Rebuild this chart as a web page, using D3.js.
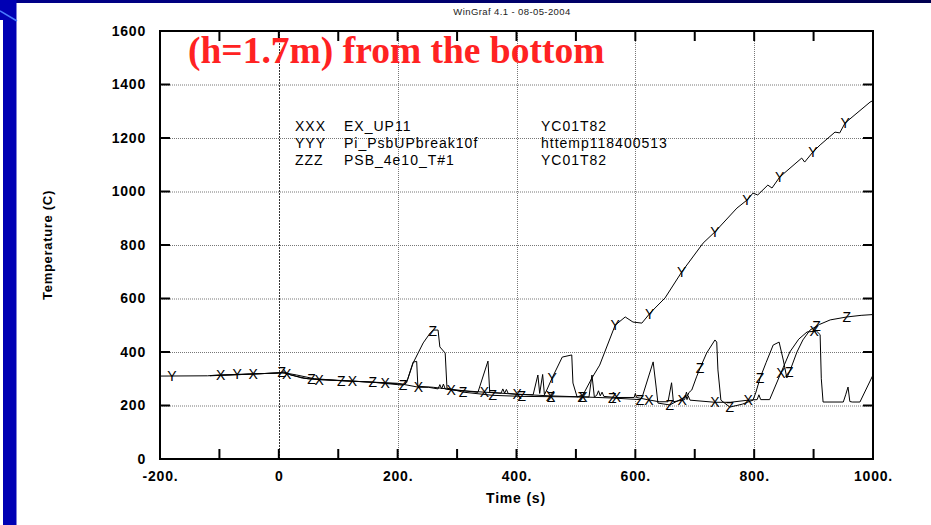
<!DOCTYPE html>
<html>
<head>
<meta charset="utf-8">
<script src="https://cdn.jsdelivr.net/npm/d3@7"></script>
<style>
  body { margin: 0; background: #fff; }
  svg { display: block; }
</style>
</head>
<body>
<svg id="chart" width="931" height="525"></svg>
<script>
// Axis ticks and labels
const xLabelValues = [-200, 0, 200, 400, 600, 800, 1000];
const xLabelTexts = ["-200.", "0", "200.", "400.", "600.", "800.", "1000."];
const xMinorTicks = [-200, -100, 0, 100, 200, 300, 400, 500, 600, 700, 800, 900, 1000];
const xGridValues = [0, 200, 400, 600, 800];
const yTickValues = [0, 200, 400, 600, 800, 1000, 1200, 1400, 1600];
const yGridValues = [200, 400, 600, 800, 1000, 1200, 1400];

// Legend rows: marker code, curve name, variable
const legendCodes = ["XXX", "YYY", "ZZZ"];
const legendNames = ["EX_UP11", "Pi_PsbUPbreak10f", "PSB_4e10_T#1"];
const legendVars = ["YC01T82", "httemp118400513", "YC01T82"];

// EX_UP11 : [time (s), temperature (C)]
const seriesX = [[-116,312],[-60,316],[-20,320],[5,323],[15,318],[40,302],[71,296],[123,291],[180,285],[200,283],
  [236,268],[252,268],[268,262],[271,278],[274,262],[277,280],[280,262],[290,258],[345,250],[374,246],[377,262],
  [380,246],[383,260],[386,245],[402,242],[457,236],[512,232],[522,232],[527,314],[531,232],[535,238],[538,255],
  [541,236],[544,250],[547,234],[568,230],[598,230],[600,245],[602,230],[620,222],[640,214],[655,214],[661,285],
  [664,214],[679,220],[683,222],[685,240],[687,222],[689,236],[692,220],[734,212],[760,212],[790,220],[805,222],
  [808,240],[811,222],[826,222],[842,306],[860,400],[875,448],[889,475],[905,478],[911,465],[913,300],[916,213],
  [950,213],[954,240],[958,269],[961,215],[965,213],[978,213],[1000,314]];

// Pi_PsbUPbreak10f : [time (s), temperature (C)]
const seriesY = [[-200,310],[-120,311],[-100,314],[-50,318],[0,321],[10,322],[30,314],[60,300],[100,294],[150,288],
  [200,281],[212,279],[217,300],[226,362],[232,365],[234,272],[260,268],[283,262],[300,258],[335,249],[352,366],
  [355,249],[400,242],[428,240],[436,314],[439,245],[444,316],[447,240],[451,258],[460,303],[477,381],[493,389],
  [495,284],[502,232],[512,240],[527,303],[540,351],[566,500],[583,531],[596,512],[611,508],[625,546],[650,602],
  [678,699],[714,807],[734,849],[771,938],[788,968],[798,994],[806,987],[823,1024],[830,1013],[843,1054],[880,1125],
  [885,1110],[899,1148],[911,1174],[936,1222],[944,1219],[953,1256],[995,1334],[1000,1340]];

// PSB_4e10_T#1 : [time (s), temperature (C)]
const seriesZ = [[-116,311],[-50,317],[0,322],[8,326],[20,314],[49,300],[103,293],[158,287],[209,276],[215,285],
  [226,359],[243,434],[255,472],[260,482],[268,482],[271,419],[280,396],[283,265],[310,250],[360,238],[409,234],
  [458,233],[512,232],[561,228],[608,222],[612,235],[630,363],[635,269],[638,209],[658,202],[684,232],[686,250],
  [688,236],[690,248],[695,258],[703,307],[709,340],[720,396],[734,445],[737,437],[739,333],[744,220],[759,194],
  [780,205],[798,220],[803,250],[810,303],[820,360],[832,426],[842,437],[849,370],[855,303],[862,340],[872,400],
  [882,445],[894,482],[910,503],[928,520],[956,531],[980,537],[1000,540]];

// Times at which the curve letters are printed along each curve
const markerTimesX = [-98,-43,13,68,124,179,235,290,346,401,457,512,568,623,679,734,790,845,901];
const markerTimesY = [-180,-70,460,566,624,678,734,788,843,899,953];
const markerTimesZ = [5,55,105,158,209,259,310,360,409,458,510,561,608,658,709,759,810,859,905,956];

const svg = d3.select("#chart");
const W = 931, H = 525;
const plot = { left: 160, right: 873, top: 31, bottom: 459 };

const x = d3.scaleLinear().domain([-200, 1000]).range([plot.left, plot.right]);
const y = d3.scaleLinear().domain([0, 1600]).range([plot.bottom, plot.top]);

// Slide decoration: dark bar on top, blue band on the left
const defs = svg.append("defs");
const topGrad = defs.append("linearGradient").attr("id", "topbar").attr("x1", 0).attr("x2", 1);
topGrad.append("stop").attr("offset", 0).attr("stop-color", "#00008a");
topGrad.append("stop").attr("offset", 1).attr("stop-color", "#000050");
svg.append("rect").attr("x", 0).attr("y", 0).attr("width", W).attr("height", 3).attr("fill", "url(#topbar)");
svg.append("rect").attr("x", 3).attr("y", 0).attr("width", 13.5).attr("height", H).attr("fill", "#0000b4");
svg.append("rect").attr("x", 0).attr("y", 0).attr("width", 3).attr("height", 20).attr("fill", "#0000b4");
svg.append("line").attr("x1", 0).attr("y1", 11).attr("x2", 17).attr("y2", 21)
  .attr("stroke", "#4a7cff").attr("stroke-width", 1.5);

// Header
svg.append("text").attr("x", 512).attr("y", 15).attr("text-anchor", "middle")
  .style("font-family", "Arial, 'Liberation Sans', sans-serif").style("font-size", "9.5px")
  .style("letter-spacing", "0.4px").attr("fill", "#222")
  .text("WinGraf 4.1 - 08-05-2004");

// Grid
const grid = svg.append("g");
grid.selectAll(".gy").data(yGridValues).join("line")
  .attr("x1", plot.left).attr("x2", plot.right)
  .attr("y1", d => y(d) + 0.5).attr("y2", d => y(d) + 0.5)
  .attr("stroke", "#777").attr("stroke-width", 1).attr("stroke-dasharray", "1,1");
grid.selectAll(".gx").data(xGridValues).join("line")
  .attr("y1", plot.top).attr("y2", plot.bottom)
  .attr("x1", d => Math.round(x(d)) + 0.5).attr("x2", d => Math.round(x(d)) + 0.5)
  .attr("stroke", d => d === 0 ? "#333" : "#777").attr("stroke-width", 1)
  .attr("stroke-dasharray", d => d === 0 ? "2,1" : "1,1");

// Tick marks (inward) on all four sides
const tickLen = 10;
const ticks = svg.append("g").attr("stroke", "#000").attr("stroke-width", 2);
ticks.selectAll(".tb").data(xMinorTicks).join("line")
  .attr("x1", d => x(d)).attr("x2", d => x(d)).attr("y1", plot.bottom).attr("y2", plot.bottom - tickLen);
ticks.selectAll(".tt").data(xMinorTicks).join("line")
  .attr("x1", d => x(d)).attr("x2", d => x(d)).attr("y1", plot.top).attr("y2", plot.top + tickLen);
ticks.selectAll(".tl").data(yTickValues).join("line")
  .attr("y1", d => y(d)).attr("y2", d => y(d)).attr("x1", plot.left).attr("x2", plot.left + tickLen);
ticks.selectAll(".tr").data(yTickValues).join("line")
  .attr("y1", d => y(d)).attr("y2", d => y(d)).attr("x1", plot.right).attr("x2", plot.right - tickLen);

// Axis labels through d3 axes (no tick lines, no domain path)
const labelFont = "Arial, 'Liberation Sans', sans-serif";
const xAxis = svg.append("g").attr("transform", `translate(0,${plot.bottom})`)
  .call(d3.axisBottom(x).tickValues(xLabelValues).tickFormat((d, i) => xLabelTexts[i]).tickSize(0).tickPadding(12));
const yAxis = svg.append("g").attr("transform", `translate(${plot.left},0)`)
  .call(d3.axisLeft(y).tickValues(yTickValues).tickFormat(d3.format("d")).tickSize(0).tickPadding(14));
[xAxis, yAxis].forEach(g => {
  g.select(".domain").remove();
  g.selectAll("text").style("font-family", labelFont).style("font-size", "14px")
    .style("font-weight", "bold").style("letter-spacing", "0.8px").attr("fill", "#000");
});

// Frame
svg.append("rect").attr("x", plot.left).attr("y", plot.top)
  .attr("width", plot.right - plot.left).attr("height", plot.bottom - plot.top)
  .attr("fill", "none").attr("stroke", "#000").attr("stroke-width", 2);

// Axis titles
svg.append("text").attr("x", 516).attr("y", 503).attr("text-anchor", "middle")
  .style("font-family", labelFont).style("font-size", "14px").style("font-weight", "bold")
  .style("letter-spacing", "0.8px").text("Time (s)");
svg.append("text").attr("transform", "translate(52,245) rotate(-90)").attr("text-anchor", "middle")
  .style("font-family", labelFont).style("font-size", "13px").style("font-weight", "bold")
  .style("letter-spacing", "0.7px").text("Temperature (C)");

// Curves
const clip = defs.append("clipPath").attr("id", "plotclip");
clip.append("rect").attr("x", plot.left).attr("y", plot.top)
  .attr("width", plot.right - plot.left).attr("height", plot.bottom - plot.top);

const line = d3.line().x(d => x(d[0])).y(d => y(d[1]));
const curves = [
  { data: seriesX, letter: "X", marks: markerTimesX },
  { data: seriesY, letter: "Y", marks: markerTimesY },
  { data: seriesZ, letter: "Z", marks: markerTimesZ }
];
const curveG = svg.append("g").attr("clip-path", "url(#plotclip)");
curveG.selectAll("path").data(curves).join("path")
  .attr("d", d => line(d.data)).attr("fill", "none")
  .attr("stroke", "#000").attr("stroke-width", 1).attr("stroke-linejoin", "round");

// Letters sit on their curve: value interpolated at the marker time
const bis = d3.bisector(d => d[0]).left;
function valueAt(data, t) {
  const i = Math.max(1, Math.min(data.length - 1, bis(data, t)));
  const a = data[i - 1], b = data[i];
  const f = (t - a[0]) / (b[0] - a[0]);
  return a[1] + f * (b[1] - a[1]);
}
curves.forEach(c => {
  curveG.append("g").selectAll("text").data(c.marks).join("text")
    .attr("x", t => x(t)).attr("y", t => y(valueAt(c.data, t)))
    .attr("text-anchor", "middle").attr("dominant-baseline", "central")
    .style("font-family", labelFont).style("font-size", "14px").attr("fill", "#000")
    .text(c.letter);
});

// Legend
const legendRows = d3.range(legendCodes.length);
const legendG = svg.append("g").style("font-family", labelFont).style("font-size", "14px")
  .style("letter-spacing", "1px");
legendG.selectAll(".lc").data(legendRows).join("text")
  .attr("x", 295).attr("y", i => 131 + i * 16.8).text(i => legendCodes[i]);
legendG.selectAll(".ln").data(legendRows).join("text")
  .attr("x", 344).attr("y", i => 131 + i * 16.8).text(i => legendNames[i]);
legendG.selectAll(".lv").data(legendRows).join("text")
  .attr("x", 541).attr("y", i => 131 + i * 16.8).text(i => legendVars[i]);

// Slide title
svg.append("text").attr("x", 188).attr("y", 63)
  .style("font-family", "'Times New Roman', 'Liberation Serif', serif").style("font-size", "37.5px")
  .style("font-weight", "bold").attr("fill", "#ff2222")
  .text("(h=1.7m) from the bottom");
</script>
</body>
</html>
